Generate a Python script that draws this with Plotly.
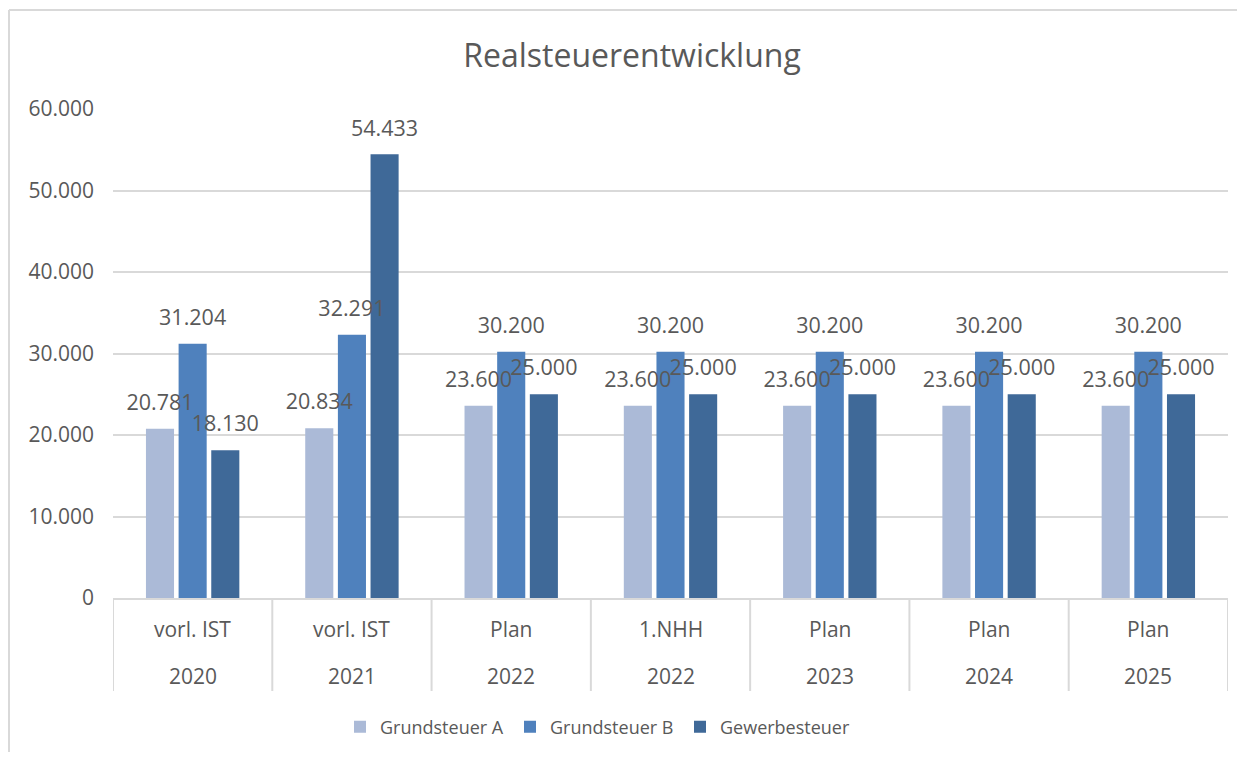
import plotly.graph_objects as go

labels_top = ["vorl. IST", "vorl. IST", "Plan", "1.NHH", "Plan", "Plan", "Plan"]
labels_year = ["2020", "2021", "2022", "2022", "2023", "2024", "2025"]
grundsteuer_a = [20781, 20834, 23600, 23600, 23600, 23600, 23600]
grundsteuer_b = [31204, 32291, 30200, 30200, 30200, 30200, 30200]
gewerbesteuer = [18130, 54433, 25000, 25000, 25000, 25000, 25000]
series_names = ["Grundsteuer A", "Grundsteuer B", "Gewerbesteuer"]
colors = ["#abbad7", "#4f81bd", "#3f6998"]
y_ticks = [0, 10000, 20000, 30000, 40000, 50000, 60000]
y_ticktext = ["0", "10.000", "20.000", "30.000", "40.000", "50.000", "60.000"]

FONT = "Open Sans"
GRAY = "#595959"
LINE = "#d9d9d9"
LABEL_LIFT = 1200  # visual gap between bar top and its data label (axis units)

def fmt(v):
    return f"{v:,}".replace(",", ".")

# page body has an 8px margin: the figure is sized to fit the 1245x760 window
OFF = 8
W, H = 1245 - 2 * OFF, 760 - 2 * OFF
L, T = 113 - OFF, 109 - OFF
R = W - (1228 - OFF)
B = H - (598 - OFF)
ph = H - T - B
pw = W - L - R

def py(screen_y):
    return ((598 - OFF) - (screen_y - OFF)) / ph

def px(screen_x):
    return ((screen_x - OFF) - L) / pw

x = list(range(len(labels_top)))
series = [grundsteuer_a, grundsteuer_b, gewerbesteuer]
fig = go.Figure()
for k, (name, vals, col) in enumerate(zip(series_names, series, colors)):
    fig.add_trace(go.Bar(
        x=x, y=vals, name=name, offsetgroup=str(k),
        marker=dict(color=col, line=dict(width=0)), hoverinfo="y+name",
    ))
# label-only traces drawn last so that labels sit on top of neighbouring bars
for k, vals in enumerate(series):
    fig.add_trace(go.Bar(
        x=x, y=vals, base=LABEL_LIFT, offsetgroup=str(k), showlegend=False,
        marker=dict(color="rgba(0,0,0,0)", line=dict(width=0)), hoverinfo="skip",
        text=[fmt(v) for v in vals], textposition="outside", constraintext="none",
        textfont=dict(family=FONT, size=21.5, color=GRAY), cliponaxis=False,
    ))

shapes = []
for i in range(len(x) + 1):
    shapes.append(dict(type="line", xref="x", yref="paper", x0=i - 0.5, x1=i - 0.5,
                       y0=0, y1=py(691), line=dict(color=LINE, width=2)))
# outer chart border (top and left)
shapes.append(dict(type="line", xref="paper", yref="paper",
                   x0=px(9), x1=px(1260), y0=py(10), y1=py(10),
                   line=dict(color=LINE, width=2)))
shapes.append(dict(type="line", xref="paper", yref="paper",
                   x0=px(9), x1=px(9), y0=py(10), y1=py(780),
                   line=dict(color=LINE, width=2)))

annotations = []
for i in x:
    annotations.append(dict(x=i, y=py(629), xref="x", yref="paper", text=labels_top[i],
                            yanchor="middle", xanchor="center", showarrow=False,
                            font=dict(family=FONT, size=21, color=GRAY)))
    annotations.append(dict(x=i, y=py(676), xref="x", yref="paper", text=labels_year[i],
                            yanchor="middle", xanchor="center", showarrow=False,
                            font=dict(family=FONT, size=21, color=GRAY)))

fig.update_layout(
    width=W, height=H,
    margin=dict(l=L, r=R, t=T, b=B),
    paper_bgcolor="white", plot_bgcolor="white",
    title=dict(text="Realsteuerentwicklung", x=(632 - OFF) / W, xref="container",
               xanchor="center", y=1 - (56 - OFF) / H, yanchor="middle",
               font=dict(family=FONT, size=32, color=GRAY)),
    barmode="group", bargap=0.385, bargroupgap=0.14,
    xaxis=dict(range=[-0.5, len(x) - 0.5], showticklabels=False, showgrid=False,
               zeroline=False, showline=True, linecolor=LINE, linewidth=2, ticks=""),
    yaxis=dict(range=[0, 60000], tickvals=y_ticks, ticktext=y_ticktext,
               showgrid=True, gridcolor=LINE, gridwidth=2, zeroline=False,
               showline=False, ticks="", ticklen=0, ticklabelstandoff=18,
               tickfont=dict(family=FONT, size=21, color=GRAY)),
    legend=dict(orientation="h", x=(340 - OFF) / W, xanchor="left", xref="container",
                y=1 - (727 - OFF) / H, yanchor="middle", yref="container",
                font=dict(family=FONT, size=18, color=GRAY),
                entrywidth=125, entrywidthmode="pixels", traceorder="normal"),
    shapes=shapes, annotations=annotations, showlegend=True,
)

fig.write_html("out.html")
